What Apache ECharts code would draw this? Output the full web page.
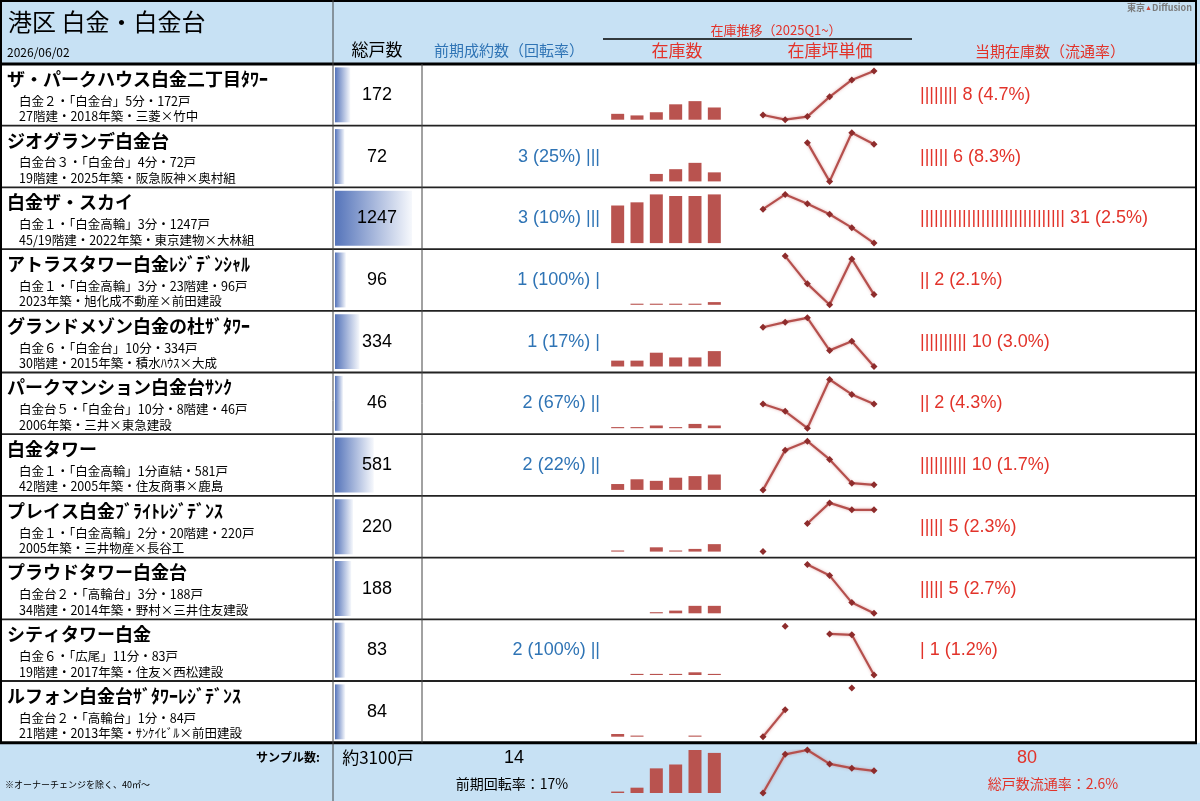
<!DOCTYPE html>
<html lang="ja">
<head>
<meta charset="UTF-8">
<title>港区 白金・白金台</title>
<script src="https://cdn.jsdelivr.net/npm/echarts@6/dist/echarts.min.js"></script>
<style>
  html, body { margin: 0; padding: 0; background: #fff; }
  #chart { width: 1200px; height: 801px; }
</style>
</head>
<body>
<div id="chart"></div>
<script>
  // 物件情報
  const names = [
    'ザ・パークハウス白金二丁目ﾀﾜｰ', 'ジオグランデ白金台', '白金ザ・スカイ',
    'アトラスタワー白金ﾚｼﾞﾃﾞﾝｼｬﾙ', 'グランドメゾン白金の杜ｻﾞﾀﾜｰ', 'パークマンション白金台ｻﾝｸ',
    '白金タワー', 'プレイス白金ﾌﾞﾗｲﾄﾚｼﾞﾃﾞﾝｽ', 'プラウドタワー白金台',
    'シティタワー白金', 'ルフォン白金台ｻﾞﾀﾜｰﾚｼﾞﾃﾞﾝｽ'
  ];
  const access = [
    '白金２・「白金台」5分・172戸', '白金台３・「白金台」4分・72戸', '白金１・「白金高輪」3分・1247戸',
    '白金１・「白金高輪」3分・23階建・96戸', '白金６・「白金台」10分・334戸', '白金台５・「白金台」10分・8階建・46戸',
    '白金１・「白金高輪」1分直結・581戸', '白金１・「白金高輪」2分・20階建・220戸', '白金台２・「高輪台」3分・188戸',
    '白金６・「広尾」11分・83戸', '白金台２・「高輪台」1分・84戸'
  ];
  const spec = [
    '27階建・2018年築・三菱×竹中', '19階建・2025年築・阪急阪神×奥村組', '45/19階建・2022年築・東京建物×大林組',
    '2023年築・旭化成不動産×前田建設', '30階建・2015年築・積水ﾊｳｽ×大成', '2006年築・三井×東急建設',
    '42階建・2005年築・住友商事×鹿島', '2005年築・三井物産×長谷工', '34階建・2014年築・野村×三井住友建設',
    '19階建・2017年築・住友×西松建設', '21階建・2013年築・ｻﾝｹｲﾋﾞﾙ×前田建設'
  ];

  // 総戸数
  const units = [172, 72, 1247, 96, 334, 46, 581, 220, 188, 83, 84];
  // 前期成約数（回転率）
  const sold = [null, 3, 3, 1, 1, 2, 2, null, null, 2, null];
  const soldRate = ['', '25%', '10%', '100%', '17%', '67%', '22%', '', '', '100%', ''];
  // 当期在庫数（流通率）
  const stockNow = [8, 6, 31, 2, 10, 2, 10, 5, 5, 1, null];
  const stockRate = ['4.7%', '8.3%', '2.5%', '2.1%', '3.0%', '4.3%', '1.7%', '2.3%', '2.7%', '1.2%', ''];

  // 在庫推移（2025Q1~）
  const quarters = ['2025Q1', '2025Q2', '2025Q3', '2025Q4', '2026Q1', '2026Q2'];
  const stockHistory = [
    [4, 3, 5, 10, 12, 8],
    [null, null, 5, 8, 12, 6],
    [24, 26, 31, 30, 30, 31],
    [null, 1, 1, 1, 1, 2],
    [4, 4, 9, 6, 6, 10],
    [1, 1, 2, 1, 3, 2],
    [4, 7, 6, 8, 9, 10],
    [1, null, 3, 1, 2, 5],
    [null, null, 1, 2, 5, 5],
    [null, 1, 1, 1, 2, 1],
    [2, 1, null, null, 1, null]
  ];
  // 在庫坪単価（万円/坪）
  const priceHistory = [
    [844, 820, 836, 938, 1025, 1071],
    [null, null, 1290, 1150, 1326, 1284],
    [979, 1022, 995, 964, 925, 880],
    [null, 1072, 974, 900, 1062, 936],
    [817, 832, 845, 748, 775, 700],
    [846, 820, 760, 933, 880, 846],
    [650, 792, 824, 759, 674, 668],
    [560, null, 661, 735, 710, 710],
    [null, null, 873, 834, 738, 700],
    [null, 732, null, 705, 702, 560],
    [600, 696, null, null, 773, null]
  ];

  // サンプル合計
  const totalStock = [40, 44, 64, 68, 83, 80];
  const totalPrice = [720, 837, 850, 808, 795, 787];
  const sampleUnits = '約3100戸';
  const totalSold = 14;
  const totalSoldRate = '17%';
  const totalStockNow = 80;
  const totalStockRate = '2.6%';

  // レイアウト
  const ROW_TOP = 64, ROW_H = 61.7, N = names.length;
  const FOOT_TOP = ROW_TOP + ROW_H * N;
  const JP = '"Noto Sans CJK JP", sans-serif';
  const EN = '"Liberation Sans", Arial, sans-serif';
  const BLUE = '#2F74B5', RED = '#E2332A', BAR = '#B9534F', DOT = '#8E2C2C';

  const grids = [], xAxes = [], yAxes = [], series = [];
  const toData = arr => arr.map(v => v == null ? '-' : v);

  function addSpark(top, height, stock, price, stockMin, stockMax) {
    // 在庫数
    let k = grids.length;
    grids.push({ left: 608, width: 116, top: top, height: height });
    xAxes.push({ type: 'category', gridIndex: k, data: quarters, show: false });
    yAxes.push({ type: 'value', gridIndex: k, min: stockMin, max: stockMax, show: false });
    series.push({
      type: 'bar', xAxisIndex: k, yAxisIndex: k, data: toData(stock),
      barWidth: 13, itemStyle: { color: BAR }, silent: true, clip: true, animation: false
    });
    // 在庫坪単価
    k = grids.length;
    grids.push({ left: 763, width: 111, top: top, height: height });
    xAxes.push({ type: 'category', gridIndex: k, data: quarters, boundaryGap: false, show: false });
    yAxes.push({ type: 'value', gridIndex: k, min: 'dataMin', max: 'dataMax', show: false });
    series.push({
      type: 'line', xAxisIndex: k, yAxisIndex: k, data: toData(price),
      connectNulls: false, symbol: 'diamond', symbolSize: 7, showAllSymbol: true,
      itemStyle: { color: DOT },
      lineStyle: { color: '#B5504D', width: 2.2, shadowBlur: 3, shadowColor: 'rgba(200,90,90,0.5)' },
      silent: true, animation: false
    });
  }

  for (let i = 0; i < N; i++) {
    const top = ROW_TOP + i * ROW_H;
    addSpark(top + 7, ROW_H - 13, stockHistory[i], priceHistory[i], 0.3, 31);
  }
  addSpark(750, 43, totalStock, totalPrice, 38.5, 83);

  // 総戸数 データバー
  const ug = grids.length;
  grids.push({ left: 335, width: 77, top: ROW_TOP, height: ROW_H * N });
  xAxes.push({ type: 'value', gridIndex: ug, min: -94, max: 'dataMax', show: false });
  yAxes.push({ type: 'category', gridIndex: ug, data: names, inverse: true, show: false });
  series.push({
    type: 'custom', xAxisIndex: ug, yAxisIndex: ug, silent: true, animation: false,
    data: units.map((v, i) => [v, i]),
    encode: { x: 0, y: 1 },
    renderItem: function (params, api) {
      const end = api.coord([api.value(0), api.value(1)]);
      const band = api.size([0, 1])[1];
      const x0 = params.coordSys.x;
      return {
        type: 'rect',
        shape: { x: x0, y: end[1] - band * 0.445, width: end[0] - x0, height: band * 0.89 },
        style: {
          fill: new echarts.graphic.LinearGradient(0, 0, 1, 0, [
            { offset: 0, color: '#5574BA' }, { offset: 1, color: '#F6F8FC' }
          ])
        }
      };
    }
  });

  // テキストと罫線
  const els = [];
  const text = (x, y, str, font, fill, align) => els.push({
    type: 'text', x: x, y: y, z: 100,
    style: { text: str, font: font, fill: fill || '#000', align: align || 'left', verticalAlign: 'middle' }
  });
  const line = (x1, y1, x2, y2, w, c) => els.push({
    type: 'line', z: 90, shape: { x1, y1, x2, y2 }, style: { stroke: c || '#000', lineWidth: w }
  });

  // 背景
  els.push({ type: 'rect', z: 0, shape: { x: 0, y: 0, width: 1200, height: ROW_TOP }, style: { fill: '#C7E1F4' } });
  els.push({ type: 'rect', z: 0, shape: { x: 0, y: FOOT_TOP, width: 1200, height: 801 - FOOT_TOP }, style: { fill: '#C7E1F4' } });

  // ヘッダー
  text(8, 22, '港区 白金・白金台', '24px ' + JP);
  text(7, 52, '2026/06/02', '12px ' + JP);
  text(377, 50, '総戸数', '17px ' + JP, '#000', 'center');
  text(509, 50, '前期成約数（回転率）', '15px ' + JP, BLUE, 'center');
  text(776, 30, '在庫推移（2025Q1~）', '13px ' + JP, RED, 'center');
  line(603, 39, 912, 39, 1.5);
  text(677, 51, '在庫数', '17px ' + JP, RED, 'center');
  text(830, 51, '在庫坪単価', '17px ' + JP, RED, 'center');
  text(1050, 51, '当期在庫数（流通率）', '15px ' + JP, RED, 'center');
  els.push({
    type: 'text', x: 1192, y: 8, z: 100,
    style: {
      text: '{a|東京}{t|▲}{a|Diffusion}', align: 'right', verticalAlign: 'middle',
      rich: {
        a: { fontSize: 9, fontWeight: 'bold', fontFamily: JP, fill: '#7A7A7A' },
        t: { fontSize: 7, fontFamily: EN, fill: '#D0453A' }
      }
    }
  });

  // 各行
  for (let i = 0; i < N; i++) {
    const top = ROW_TOP + i * ROW_H;
    text(7, top + 15, names[i], 'bold 18px ' + JP);
    text(19, top + 37, access[i], '12.5px ' + JP);
    text(19, top + 52.5, spec[i], '12.5px ' + JP);
    text(377, top + 31, String(units[i]), '18px ' + EN, '#000', 'center');
    if (sold[i] != null) {
      text(600, top + 31, sold[i] + ' (' + soldRate[i] + ') ' + '|'.repeat(sold[i]), '18px ' + EN, BLUE, 'right');
    }
    if (stockNow[i] != null) {
      text(920, top + 31, '|'.repeat(stockNow[i]) + ' ' + stockNow[i] + ' (' + stockRate[i] + ')', '18px ' + EN, RED, 'left');
    }
    if (i > 0) line(1, top, 1196, top, 1.8, '#222');
  }

  // フッター
  text(320, 757, 'サンプル数:', 'bold 12px ' + JP, '#000', 'right');
  text(5, 785, '※オーナーチェンジを除く、40㎡～', '9px ' + JP);
  text(378, 758, sampleUnits, '17px ' + JP, '#000', 'center');
  text(514, 758, String(totalSold), '18px ' + EN, '#000', 'center');
  text(512, 784, '前期回転率：' + totalSoldRate, '14px ' + JP, '#000', 'center');
  text(1027, 758, String(totalStockNow), '18px ' + EN, RED, 'center');
  text(1053, 784, '総戸数流通率：' + totalStockRate, '14px ' + JP, RED, 'center');

  // 罫線
  line(0, 1, 1197, 1, 2);
  line(1, 0, 1, FOOT_TOP, 2);
  line(1196, 0, 1196, FOOT_TOP, 2);
  line(0, ROW_TOP, 1197, ROW_TOP, 3);
  line(0, FOOT_TOP, 1197, FOOT_TOP, 3);
  line(333, 0, 333, 801, 1, '#444');
  line(422, ROW_TOP, 422, FOOT_TOP, 1, '#444');

  const chart = echarts.init(document.getElementById('chart'));
  chart.setOption({
    animation: false,
    grid: grids,
    xAxis: xAxes,
    yAxis: yAxes,
    series: series,
    graphic: { elements: els }
  });
</script>
</body>
</html>
